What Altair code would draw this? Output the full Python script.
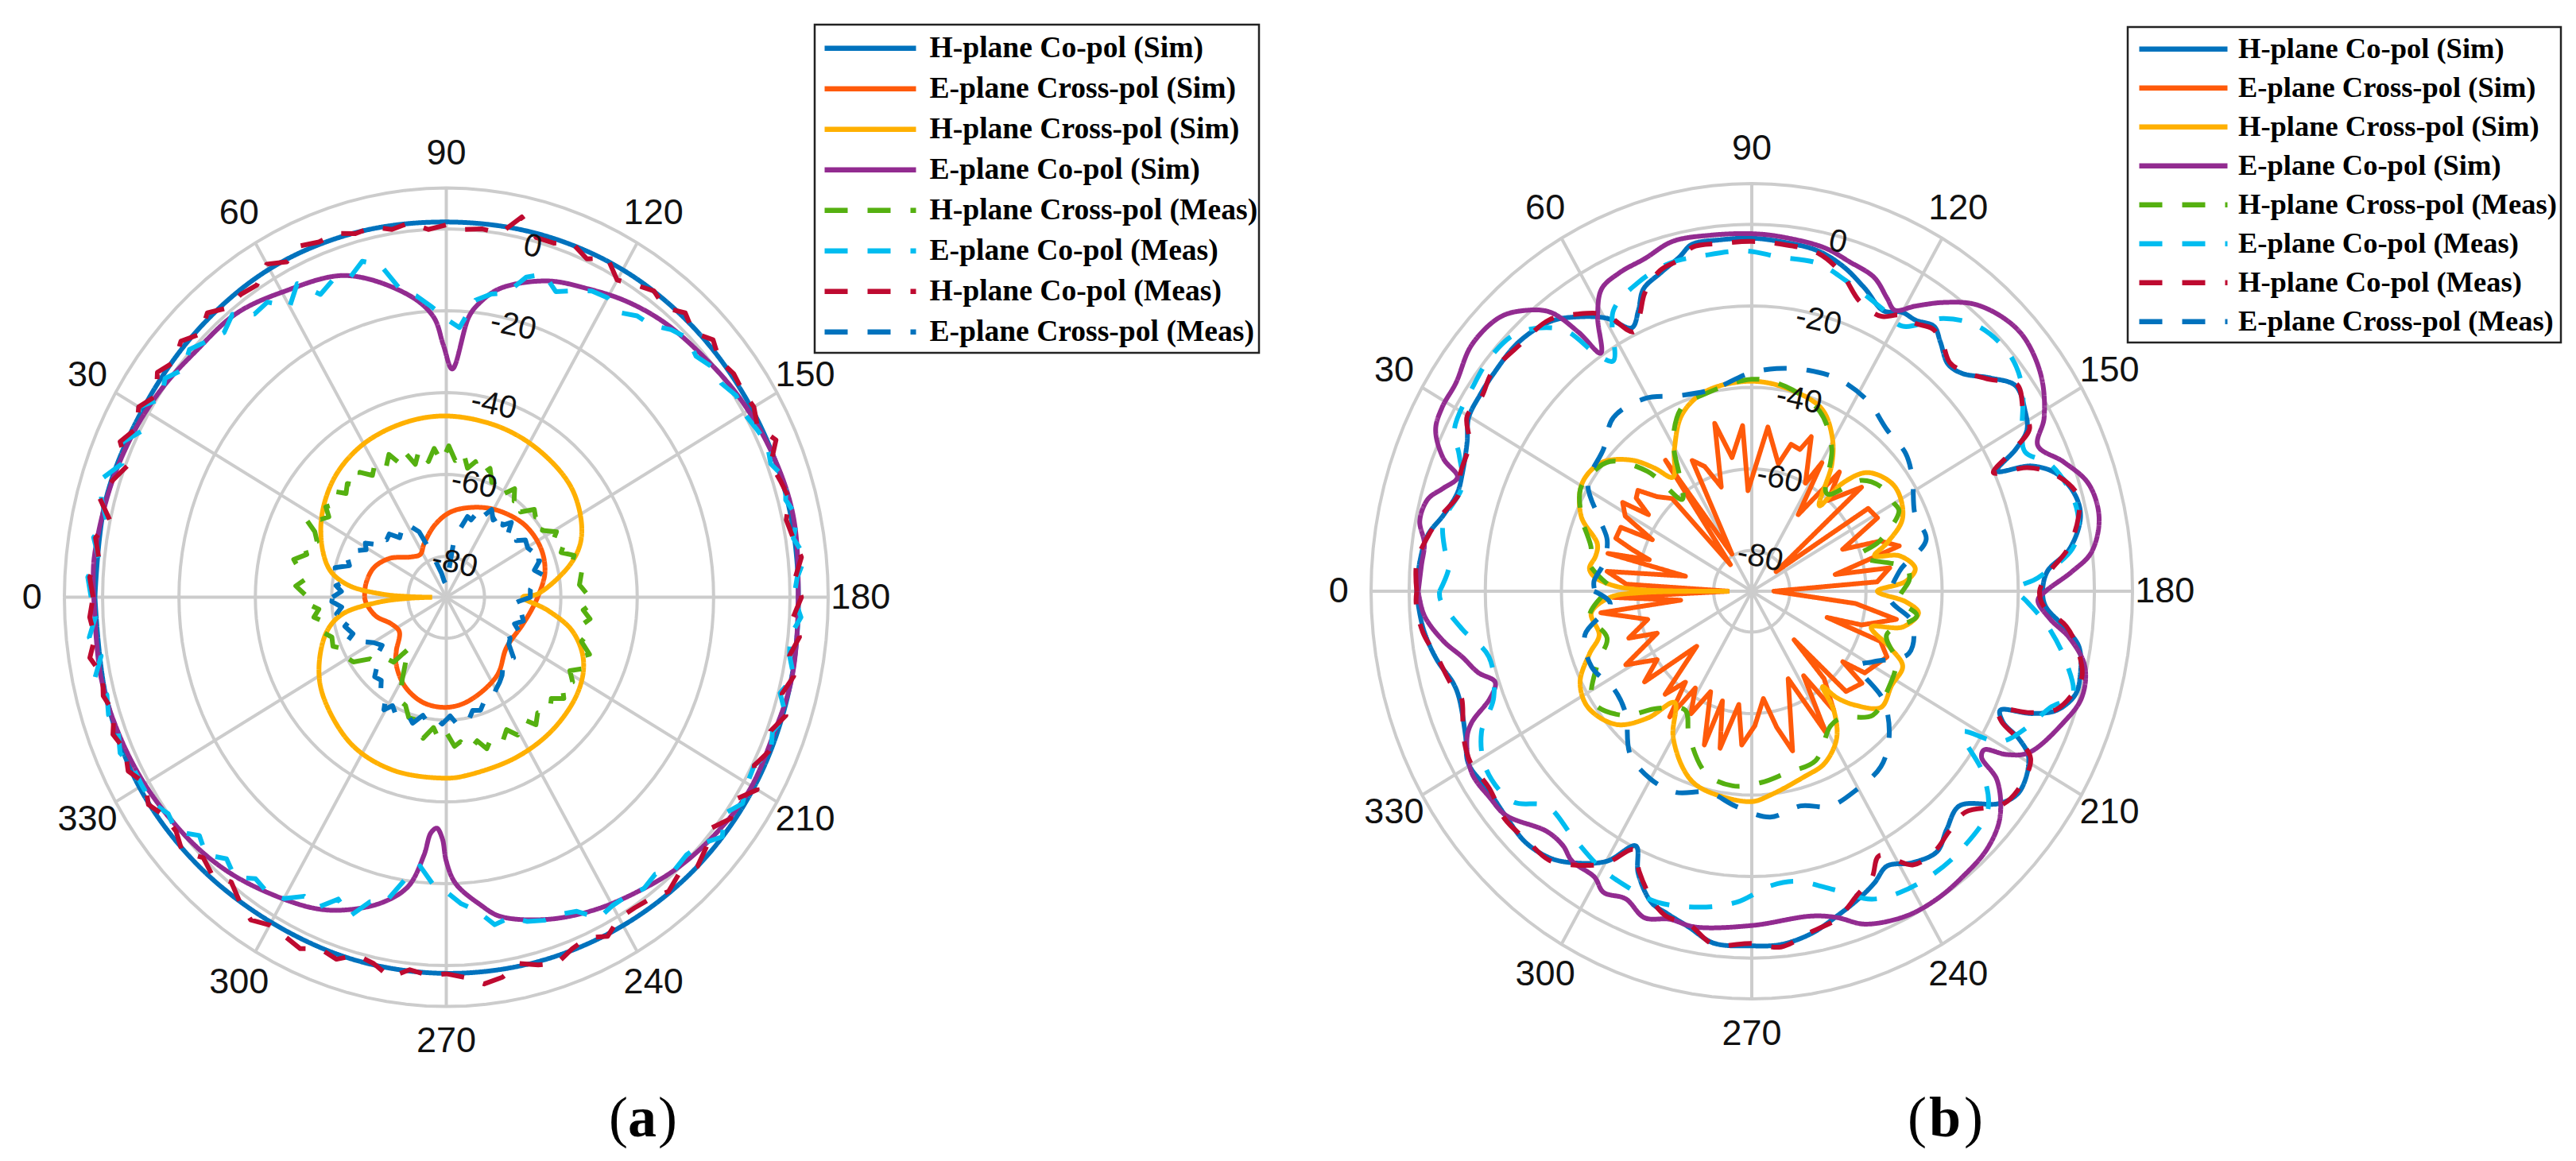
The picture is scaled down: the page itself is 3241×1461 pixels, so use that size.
import altair as alt
import pandas as pd

alt.data_transformers.disable_max_rows()

NAMES = ["H-plane Co-pol (Sim)", "E-plane Cross-pol (Sim)", "H-plane Cross-pol (Sim)", "E-plane Co-pol (Sim)",
         "H-plane Cross-pol (Meas)", "E-plane Co-pol (Meas)", "H-plane Co-pol (Meas)", "E-plane Cross-pol (Meas)"]
COLORS = ["#0072BD", "#FF5A0A", "#FFB000", "#922B90", "#55B010", "#00BDF0", "#BE0A30", "#0072BD"]
DASHES = [[1, 0]] * 4 + [[29, 25]] * 4
ANGLE_TICKS = list(range(0, 360, 30))
RING_LEVELS = [-80, -60, -40, -20, 0, 10]
RADIAL_LABELS = [0, -20, -40, -60, -80]
CENTER_DB = -90

A_H_CO_SIM = [(0,92),(15,92.3),(30,91.8),(45,92.2),(60,92.6),(75,92.2),(90,91.7),(105,92),(120,92.4),(135,92.4),(150,92.3),(165,92.4),(180,92.2),(195,92.6),(210,93),(225,93),(240,92.6),(255,92.2),(270,91.9),(285,91.8),(300,91.7),(315,92.3),(330,92.8),(345,92.3)]
A_E_X_SIM = [(0,21.4),(9,21.3),(20.8,20.3),(32.7,17.6),(46.9,13.5),(57,12.5),(66,14.3),(80.3,17.9),(93.3,20.9),(108.6,23.2),(122.9,25.2),(139.5,27.1),(154.6,27.5),(167,26.5),(179,24.1),(188,22.5),(199,21),(218,20),(235.3,23.3),(257,26),(270,26.9),(283.5,26.4),(297,24.2),(309.3,20.8),(315,18.5),(325.6,14.9),(335.7,15.8),(346,19),(356,21)]
A_H_X_SIM = [(0,3.7),(1,10),(2.7,17),(6.7,26),(13,31.6),(28,37.2),(44,41.2),(59,43.2),(74.8,44),(90,44.3),(108.6,43.9),(125,43.3),(141.5,42.2),(156.4,38.7),(165.2,34.1),(178,24),(180,20),(186.7,26.6),(194,34),(203,39),(213.6,41.5),(229,42.7),(245,43.2),(262.4,43.8),(270,44.2),(288,44.5),(304.4,43.7),(322.6,40.4),(333,37.4),(345,32.4),(351.4,27.5),(356,18),(358.5,10)]
A_E_CO_SIM = [(0,92.3),(5.8,92.7),(17,92),(26.6,91.2),(34.9,90.2),(42.3,89),(51.5,88.5),(60.2,86),(71.5,82.9),(82.4,74.5),(87.2,68.6),(89.3,61.6),(91.6,55.8),(94.9,68.7),(96.6,72),(100.5,76.7),(108.9,81.7),(116.2,84),(123,86.3),(130.2,88.1),(137.6,89.2),(146.6,90.8),(156.8,92.2),(167,93),(178,92.2),(192,92.6),(201.5,92),(211,92.3),(219.8,91.1),(227.8,89.6),(235,87.7),(243,85.7),(251.5,83),(259.8,79.2),(263.2,75.7),(268,70),(270,64.5),(271,59),(272.5,56.5),(274,57.7),(275.3,63.3),(278,71.3),(282.5,76.3),(289,80.8),(294.5,83.5),(303,86),(310.8,88.2),(318.8,89.7),(329,91.1),(338.5,92),(348,92.5)]
A_H_X_MEAS = [(1,37),(4,39.5),(7,37),(10,39),(13,41),(16,38),(19,39.5),(22,36.5),(25,38),(27.7,41.8),(30,38),(32.6,36.5),(35,38.5),(38,37),(41.5,39),(44,36.5),(47,38),(50,35.5),(53.5,38),(57,35.5),(60,37.5),(63,35),(66.7,38),(70,34.5),(73,37),(76,33.5),(79,37),(82,33.5),(85,36.5),(88,33),(91,37),(94,33.5),(97,36),(100,32),(103,34),(106.4,31),(110,33.5),(113,30.5),(117,32),(120.8,29.5),(124,32),(127,29.5),(130,31),(133,28.5),(137,31.5),(140,30.5),(144,32.5),(147,30),(151,33),(154,31),(157,33.5),(160,32),(163,35),(166.9,33.5),(170,36),(175,35),(179,37),(182,38.5),(185,36),(188,38),(191,36),(194,38),(197,37),(200.4,40),(203,37.5),(206.3,39.5),(209,37),(212,39),(215,37),(218.8,39.5),(222,37),(226,39),(229.7,37),(233,39),(236,36),(241,38.5),(244,36),(247,38),(250.6,36),(254,38.5),(257,36),(261,38),(264,35.5),(266.6,36.5),(270,33),(273,35),(276,32),(280,35),(284,31),(288.5,31),(292,28.5),(296,28),(300,23),(304,19),(307.7,15.5),(311,21),(315,21.5),(319,24.5),(323,25),(327,29),(330.7,30),(334,29),(338,32),(342,31.5),(346,34),(349.4,32.5),(352,35),(355,33.5),(358,37)]
A_E_CO_MEAS_DB = [3,4,1.5,3.5,1,3.5,4.5,1,3,-0.5,3,-1,1,-1.5,0.5,-1.5,-3,-1,-4.5,-4,-8,-4,-9,-7,-8,-5,-7,-14,-16,-19,-22,-24,-17,-15,-14,-9,-7,-10,-8,-6,-5.5,-7,-5,-4.5,-2,-0.5,-2,-0.5,-1,0.5,0,1,2,1,3.5,2,4,2,4.5,2,1,3,0.5,1,3,0.5,3.5,1.5,3,0.5,1,2.5,0,3,0,-1,-0.5,-3,-2,-3,-3,-2,-6,-7,-7,-8,-10,-9,-13,-15,-18,-20,-24,-20,-14,-13,-8,-11,-7,-8,-5,-4,-5,-2,-4,-1,-3,1,0,2,2,2,3.5,2,3,2,4,1.5,4,2]
A_H_CO_MEAS_DB = [2.5,3.5,1.5,3,0,4,2,-0.5,3.5,1,3,0.5,3.5,1.5,3.5,1,3.5,1,1.5,1,4,2,4,3,3.5,2,2.5,1,2,0,1,0,0.5,0,5,1,1,2.5,0.5,3,-0.5,1,2.5,1,3.5,1.5,4,2,3,2.5,3,1.5,4.5,1,2,3,1,2,3.5,1.5,3,1,3,1,3,1,3.5,1,2.5,0.5,4,0.5,2,-0.5,1.5,3,1,2.5,1,0.5,0.5,3,1,2,4,3,1.5,4,5,3,2,2.5,1.5,4,1.5,0.5,3,2,4,3,2.5,4,2,-0.5,1.5,0,3,1,1,3,1,3.5,2,3.5,1.5,3,2,4.5,2.5,3.5]
A_E_X_MEAS = [(0,29.8),(3,27.5),(5.6,29),(8,27),(11,29.5),(14,30),(17,26.5),(20,27.5),(23,25),(26,26),(29,24),(32,25),(35,22.5),(38.5,23.5),(42,21),(46,21.5),(50,19),(54,20),(58,18),(62,19.5),(66,17.5),(70,12),(72,9.7),(78,6),(82,4),(90,3),(98.4,15.2),(102,17),(105.7,20.5),(109,20),(112.5,23.5),(116,22),(119,24.5),(123,22.5),(126.8,25.8),(130,23),(133,25),(136,22.5),(139.7,24.8),(143,23),(146,25),(150.6,24.5),(155,25.5),(158,23.5),(160,26),(164,24),(168,26),(172,23),(175,22.1),(180,22),(183,19),(186,17.3),(191,20),(196,21),(200,19),(204,21),(208,18),(211,19.5),(215,20),(220,23),(226,21.5),(232.5,24),(236,25),(240,26),(244.7,27.8),(248,27),(252,29),(256,28.5),(258.8,30.5),(261.5,29.5),(265,31),(268,29),(272,31),(275.5,29.5),(279,31),(282,29.5),(286,32),(289,30.5),(294,32),(298,30),(300.7,32),(304,28),(307,28.5),(310,26.5),(314,27),(317.5,24.5),(321,24),(325,20.5),(329.7,22),(333,24),(337.5,28),(340,26),(345,27.5),(348,25.5),(352,29),(355,27.5),(358,30)]

B_H_CO_SIM = [(0,88),(4.7,87.5),(9.2,86.2),(13,83.1),(17.3,81),(20.7,81.3),(26,83.2),(29.8,85.7),(33.9,86.1),(38.2,86.3),(45,86.5),(51.4,84.7),(56,81.2),(60.4,77),(64,71.9),(66.6,75),(69,79.4),(73,81.7),(77,84.2),(79.5,86.5),(84.5,86.6),(90,86.6),(95,86.1),(101.7,85.3),(106.8,83.2),(111.8,80),(116.7,77),(120,79),(122.9,79.2),(126.4,80.7),(129,78.7),(132.8,75.9),(136,76.9),(140.2,81.7),(144,85.7),(148.4,84.3),(151.3,82.4),(153.3,77.7),(155.4,70.8),(157.3,79.6),(160.2,85.1),(164.6,88.2),(168.2,88.2),(173,84),(176.4,77.8),(180,76.4),(182.8,77.3),(185.9,82.2),(189,87),(193.5,88.7),(196.6,88.7),(200,85.3),(202.2,79.4),(204.1,71.5),(206,73.5),(207.3,79),(209.3,83.4),(215,85.8),(218.6,83.4),(224,75.8),(228.8,77.7),(232.7,80.3),(237.7,78.8),(242.2,76.2),(245.8,78.5),(249.6,80.5),(254.4,82.8),(259.4,85.4),(265,87),(270,87),(276.6,86.9),(281.4,84),(285.8,82.1),(289,80.8),(293.3,75.4),(296,69.5),(299.9,76.4),(305.3,81.6),(309,84.2),(314,85.6),(319.3,85),(325,84.7),(330.4,85.6),(334.8,83.1),(341.3,81.2),(344,81.6),(348.5,84.4),(353.4,86.6),(358,87.7)]
B_E_X_SIM = [(0,5.9),(3,33),(7.3,38.3),(12,17.8),(13.8,38.9),(16,28),(18,33),(20,38),(24.5,37.8),(25.8,29),(29,38),(32.7,40.3),(34.7,33),(37,38),(39.6,38.8),(43,34),(47.4,30.9),(49.3,8.6),(54.8,39.3),(60.3,10.5),(64,35.7),(68,33),(72.6,26.8),(76.7,42.3),(81,33.2),(86.6,40.7),(87.7,24.7),(96,40.5),(102.6,32),(106,37.5),(110,37),(112.4,41),(118,30),(120.3,36.5),(123,22.4),(128.2,37.2),(132,30),(138.5,38.5),(143,8),(146.4,36.7),(151.4,37.6),(156.7,26),(160,36),(164,40.3),(169.4,22.3),(171,36.7),(176,33),(180,5.8),(186.3,27.4),(190.3,38.6),(196,30),(198,20.8),(200,36),(204.4,39),(214,35.8),(215.9,29.5),(218,36.7),(224.8,34.9),(227,16.3),(228.5,28.7),(233.6,36.3),(236.7,24.8),(240.7,39.7),(246,23.5),(254.7,40.6),(258.9,34),(263.4,26.5),(268.6,33),(274,37.8),(277,28),(282.2,39.4),(286,28),(288.3,39.7),(293.7,26.9),(298,34),(302,28),(305,37.6),(308,28.3),(312,34),(317,19.8),(321.7,35.9),(326,30),(331.4,37.7),(337.5,26.9),(340.4,34.3),(345.8,28.2),(352.4,40),(353.3,18.8),(357.6,36.4)]
B_H_X_SIM = [(0,5.9),(0.7,29),(2.2,36.4),(5,41.6),(7.5,43),(12,41.9),(16,42.2),(22,48.2),(29,51.5),(33.8,51.8),(39.3,50.2),(45.6,45),(49.7,39.7),(53.5,34.8),(59.8,40.4),(67,47),(75.6,50.4),(88,51.5),(98.4,50.9),(112,48.5),(119,43.5),(124,37.6),(130.3,27.5),(132,35.7),(136.4,42.2),(145.6,45.5),(155.6,43.5),(161.6,37.4),(164.9,33.4),(167.4,39.8),(172.6,43.3),(176.5,40.6),(180,33),(183.7,40.6),(186.9,44.1),(192.5,40.6),(195.7,32.6),(200.8,38.8),(204.9,43.7),(212.2,43.4),(220,44.3),(225.7,39.1),(229.5,34.3),(231.5,29.9),(233.6,36.3),(238.4,42.5),(245.8,46.4),(252.9,47.5),(264.3,50.2),(270,51.6),(280.4,50.8),(287.5,49.6),(292.9,46.8),(300.3,41),(306.6,34),(311.3,41.4),(317.4,48.3),(326.5,51.6),(333.7,50.3),(340.2,45.3),(345,41.5),(352.8,42.5),(357.7,37.2),(359.3,29)]
B_E_CO_SIM = [(0,87.6),(4.2,87),(7.8,86.8),(11.2,88.9),(14.9,88),(17.3,84.9),(19.9,82.2),(21.9,87.3),(25.5,92),(29,93),(33.3,93),(39.4,95.2),(45.5,94.3),(49.2,91),(52.3,86.5),(54.4,78.1),(55.8,70.6),(59,78.6),(62,84),(66,85.5),(71,86.3),(76.4,88.3),(83,88),(90,87.7),(94.9,87.3),(102.7,86.4),(107.6,84.8),(112.7,83.4),(116.3,80.2),(118.6,78.5),(121.5,82),(125.4,86.9),(129.8,91.6),(135,94.3),(139.2,94.8),(145.3,92.5),(151,87.8),(154.6,83.2),(158.8,87.8),(163.4,92.3),(168.8,93),(173.9,89.7),(176.7,84.3),(180,77.2),(181.7,75.2),(185,78.7),(187.8,84.2),(191.9,89.4),(196.8,90.5),(201.6,87.9),(208.6,82.8),(210.9,78),(212.5,72.4),(214,72.8),(215.7,79.3),(220.4,85.6),(225.6,88.4),(231.7,89.3),(237.2,89.8),(243,89.4),(250,86.9),(254.4,83.1),(258.9,81.2),(270,82),(280.3,83.7),(285,83.3),(289.4,84.9),(293.7,82.4),(297.8,83.5),(300.5,81.4),(305.5,81.3),(308.5,79.7),(312.4,79.8),(319.6,84.8),(323.5,85.4),(328.8,86),(334.2,83.1),(336.3,80.4),(339.2,73.4),(341.7,71),(344.5,74.6),(348,77.7),(351.4,81.9),(356,86.2)]
B_H_X_MEAS = [(2.7,38),(9.5,43.6),(13.7,43.4),(22,48.2),(29,51.5),(33,51.3),(40.5,49),(47,40.2),(51,29),(56,33.9),(61,42.6),(68,48.8),(74.5,49.8),(90,52),(100,51),(112,47.6),(121,40.8),(129.6,31),(136.6,39.6),(142.8,42.5),(149.6,43.1),(153,43.4),(160,35.6),(163,29.4),(172,41),(176,41.5),(183,38.8),(187.9,43.8),(196.8,37),(204.5,41.7),(214.7,43.2),(223.7,44),(232.8,39),(238,39),(248,44.8),(258.6,45.5),(267,47),(276,48),(285,46.3),(295,39),(301,34),(310.8,38),(318,45.5),(327,49.8),(336.4,44.2),(343.2,39.7),(352,43)]
B_E_CO_MEAS = [(0,82),(4.6,79.7),(7.3,81.3),(12,82.8),(18.6,80.3),(23.5,83.8),(26.9,87.6),(34.5,88.8),(40.4,89.5),(46,88.2),(52.3,81.1),(55,70.8),(57.2,67.2),(62.2,77.9),(68.5,81.4),(75,83.3),(81.4,83.3),(88.8,83.5),(95,82.3),(102.1,82.3),(108,80.1),(116,77.4),(121.3,76.1),(127,83.8),(132.5,88.1),(139.4,89.2),(144.7,87),(150.9,81.3),(154.5,79.5),(158.4,84.4),(164.5,87.4),(169.2,87.4),(173,84.8),(177.5,75.2),(179.6,69.4),(182,72.3),(186.2,78.1),(192,84.5),(196.8,88),(200,83.4),(204.5,79.9),(209.5,75),(212,65.2),(216.3,75.3),(221,82.1),(228.8,83.9),(235.4,84.2),(242.3,83.5),(247.4,81.8),(253.6,76.3),(260.7,72.1),(266,72.4),(273,76.4),(280,78.7),(288,80.2),(293.9,79.6),(300.4,78.6),(308,76.4),(315.6,75.3),(320.6,81.3),(328,82.3),(334,79),(339,72.6),(346.9,70.9),(353,76.6),(358.5,81.8)]
B_H_CO_MEAS = [(0,88),(4.7,88.3),(9.2,86),(13,83.5),(17.3,80.5),(20.7,81.8),(26,82.5),(29.8,86.2),(33.9,85.5),(38.2,86.8),(45,85.8),(51.4,85.2),(56,82),(60.4,78),(64,70.8),(66.6,74),(69,78.4),(73,82.3),(77,83.6),(79.5,85.8),(84.5,85.7),(90,85.8),(95,85.5),(101.7,84.8),(106.8,81.5),(111.8,76.5),(116.7,75.5),(120,78.2),(122.9,78.4),(126.4,80),(129,79.2),(132.8,76.5),(136,77.5),(140.2,81.2),(144,86.2),(148.4,83.8),(151.3,83.2),(153.3,76.8),(155.4,69.8),(157.3,78.5),(160.2,84.6),(164.6,88.8),(168.2,87.6),(173,83.5),(176.4,78.5),(180,75.6),(182.8,76.8),(185.9,83),(189,86.4),(193.5,89.2),(196.6,88),(200,85),(202.2,78.8),(204.1,71),(206,73),(207.3,78.4),(209.3,84),(215,85.2),(218.6,84),(224,78),(228.8,78.5),(232.7,79.8),(237.7,79.4),(242.7,73),(245.8,77),(249.6,79.5),(254.4,83.4),(259.4,85),(265,87.6),(270,86.4),(276.6,87.2),(281.4,83.4),(285.8,82.8),(289,80.2),(293.3,74.8),(296,70.5),(299.9,77),(305.3,82.2),(309,84.8),(314,85),(319.3,85.6),(325,84.2),(330.4,85),(334.8,83.7),(341.3,80.6),(344,82.2),(348.5,84),(353.4,87),(358,88.2)]
B_E_X_MEAS = [(1,41.4),(3.5,41.5),(10,39.5),(18.3,40),(23.4,43.3),(31.5,50.5),(41.9,52.3),(49.5,56),(59.2,55),(68.4,51.6),(78.6,50.6),(89,53.4),(96.8,55),(105.4,56.2),(114,56.8),(123.3,55.7),(131.9,53.2),(140,52.7),(146.4,50.6),(156.4,46.8),(164.6,47.5),(172.8,39.1),(183,36.4),(190.2,42.8),(200.3,44),(208.2,36.5),(213.2,33.6),(217.8,43.9),(225,51),(231.8,54.8),(240.3,55.9),(248.7,56.6),(256.3,54.2),(265,55.6),(274.6,52.9),(283,50.6),(292,53.2),(299.9,53.2),(308.6,51.2),(317.8,44.7),(326,43.4),(336.4,46),(346.3,45.1),(355.4,37.3)]

GRID = "#CCCCCC"
SMOOTH = "catmull-rom"
CURVE_A = [SMOOTH, SMOOTH, SMOOTH, SMOOTH, "linear", "linear", "linear", "linear"]
CURVE_B = [SMOOTH, "linear", SMOOTH, SMOOTH, SMOOTH, SMOOTH, SMOOTH, SMOOTH]


def rows(table):
    return [{"angle": a, "db": v + CENTER_DB} for a, v in table]


def on_grid(values):
    return [{"angle": i * 3, "db": v} for i, v in enumerate(values)]


def series_frame(name, pts):
    pts = pts + [dict(pts[0], angle=360)]
    return pd.DataFrame([{"name": name, "i": i, **p} for i, p in enumerate(pts)])


def polar(chart):
    return chart.transform_calculate(
        px=f"-(datum.db-({CENTER_DB}))*cos(datum.angle*PI/180)",
        py=f"(datum.db-({CENTER_DB}))*sin(datum.angle*PI/180)",
    )


def panel(tables, curves_kind, cx, cy, rx, ry, x0, w, h, lg, letter):
    ux, uy = rx / 100, ry / 100
    y0 = 8
    xs = alt.Scale(domain=[(x0 - cx) / ux, (x0 + w - cx) / ux], nice=False, zero=False)
    ys = alt.Scale(domain=[(cy - y0 - h) / uy, (cy - y0) / uy], nice=False, zero=False)
    X = alt.X("px:Q", scale=xs, axis=None)
    Y = alt.Y("py:Q", scale=ys, axis=None)

    ring_df = pd.DataFrame([{"level": l, "i": a, "angle": a, "db": l} for l in RING_LEVELS for a in range(0, 361, 3)])
    spoke_df = pd.DataFrame([{"spoke": a, "i": k, "angle": a, "db": d} for a in ANGLE_TICKS for k, d in enumerate([CENTER_DB, 10])])
    rings = polar(alt.Chart(ring_df).mark_line(color=GRID, strokeWidth=4)).encode(x=X, y=Y, detail="level:N", order=alt.Order("i:Q"))
    spokes = polar(alt.Chart(spoke_df).mark_line(color=GRID, strokeWidth=4)).encode(x=X, y=Y, detail="spoke:N", order=alt.Order("i:Q"))

    legend = alt.Legend(title=None, orient="none", legendX=lg["sx"] - x0, legendY=lg["top"] - y0, padding=0,
                        symbolType="stroke", symbolSize=lg["sw"] ** 2, symbolStrokeWidth=6.5, clipHeight=lg["row"], rowPadding=0,
                        labelFont="Liberation Serif", labelFontWeight="bold", labelFontSize=lg["fs"], labelColor="#000000",
                        labelOffset=lg["off"], labelLimit=900, symbolLimit=0)
    curves = []
    for name, pts, kind in zip(NAMES, tables, curves_kind):
        curves.append(polar(alt.Chart(series_frame(name, pts)).mark_line(strokeWidth=6, strokeCap="butt", strokeJoin="round", interpolate=kind)).encode(
            x=X, y=Y,
            color=alt.Color("name:N", scale=alt.Scale(domain=NAMES, range=COLORS), legend=legend),
            strokeDash=alt.StrokeDash("name:N", scale=alt.Scale(domain=NAMES, range=DASHES), legend=legend),
            order=alt.Order("i:Q"),
        ))
    frame = alt.Chart(pd.DataFrame({"k": [0]})).mark_rect(fill="white", stroke="#222222", strokeWidth=2.5).encode(
        x=alt.value(lg["l"] - x0), x2=alt.value(lg["r"] - x0), y=alt.value(lg["t"] - y0), y2=alt.value(lg["b"] - y0))

    ang_df = pd.DataFrame([{"angle": a, "db": 18.5, "t": str(a)} for a in ANGLE_TICKS])
    ang = polar(alt.Chart(ang_df).mark_text(font="Liberation Sans", fontSize=45, color="#111111", baseline="middle", align="center")).encode(x=X, y=Y, text="t:N")
    rad_df = pd.DataFrame([{"angle": 104.8, "db": d - 1.4, "t": str(d)} for d in RADIAL_LABELS])
    rad = polar(alt.Chart(rad_df).mark_text(font="Liberation Sans", fontSize=40, color="#111111", baseline="middle", align="center", angle=12)).encode(x=X, y=Y, text="t:N")

    caps = []
    for ch, px, bold in letter:
        caps.append(alt.Chart(pd.DataFrame({"t": [ch]})).mark_text(font="Liberation Serif", fontSize=72, color="#000000", baseline="middle", align="center",
                    fontWeight="bold" if bold else "normal").encode(x=alt.value(px - x0), y=alt.value(1408 - y0), text="t:N"))

    return alt.layer(rings, spokes, frame, *curves, ang, rad, *caps).properties(width=w, height=h)


tables_a = [rows(A_H_CO_SIM), rows(A_E_X_SIM), rows(A_H_X_SIM), rows(A_E_CO_SIM), rows(A_H_X_MEAS),
            on_grid(A_E_CO_MEAS_DB), on_grid(A_H_CO_MEAS_DB), rows(A_E_X_MEAS)]
tables_b = [rows(B_H_CO_SIM), rows(B_E_X_SIM), rows(B_H_X_SIM), rows(B_E_CO_SIM), rows(B_H_X_MEAS),
            rows(B_E_CO_MEAS), rows(B_H_CO_MEAS), rows(B_E_X_MEAS)]

left = panel(tables_a, CURVE_A, 561.5, 751.6, 480.5, 515, 8, 1600, 1440,
             dict(sx=1034, top=35.5, sw=115, row=50.5, fs=37.6, off=13.5, l=1025, r=1584, t=31, b=444), [("(", 778, False), ("a", 808, True), (")", 840, False)])
right = panel(tables_b, CURVE_B, 2204, 744, 479, 513, 1608, 1625, 1440,
              dict(sx=2688, top=37.3, sw=111, row=48.8, fs=36.5, off=10, l=2677, r=3222, t=34, b=431), [("(", 2412, False), ("b", 2447, True), (")", 2483, False)])

chart = alt.hconcat(left, right, spacing=0).resolve_scale(color="independent", strokeDash="independent", x="independent", y="independent").properties(padding=0, background="white").configure_view(strokeWidth=0, strokeOpacity=0, stroke=None)
chart.save("out.html", embed_options={"renderer": "svg", "actions": False})
